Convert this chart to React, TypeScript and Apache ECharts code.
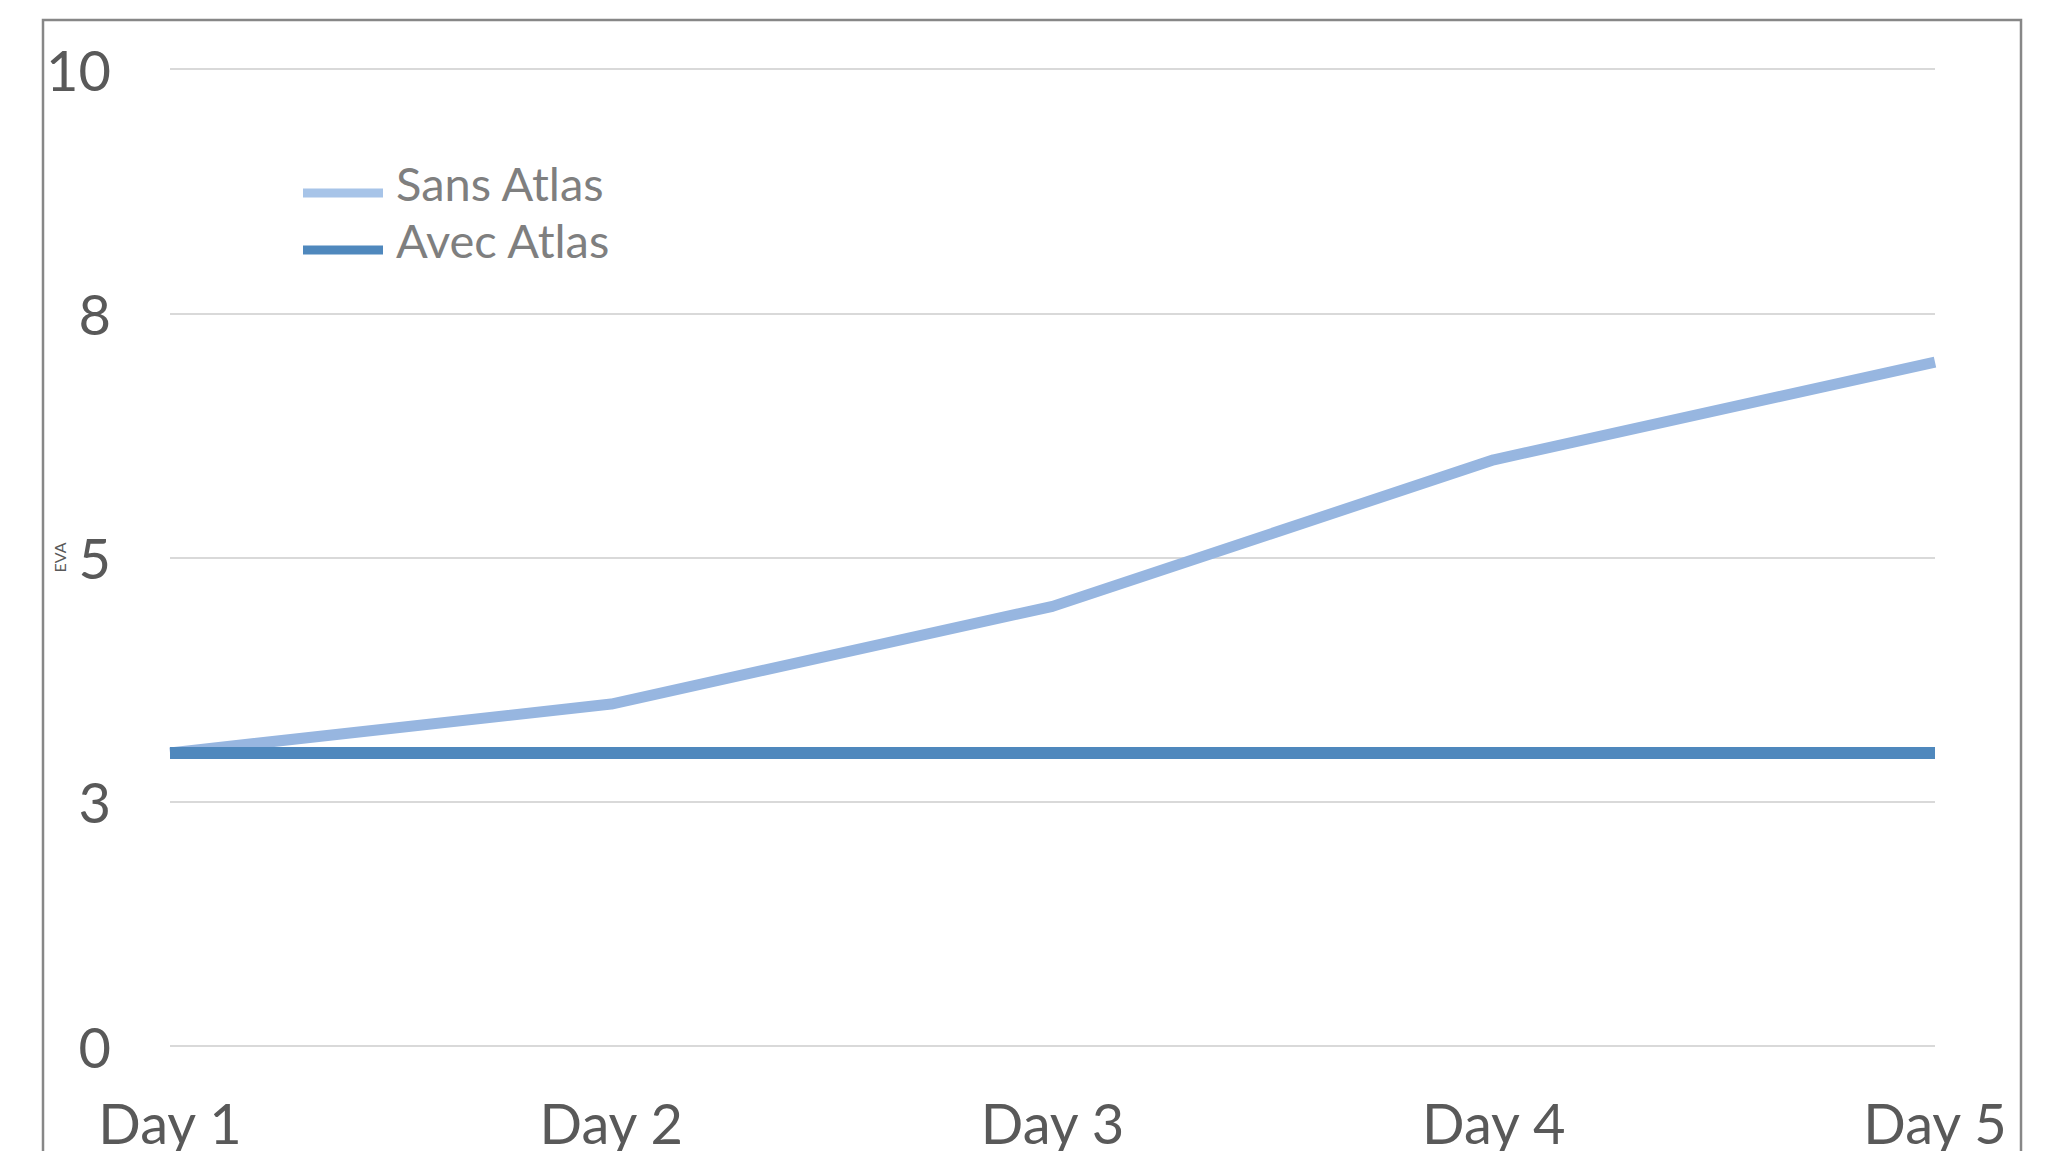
import React, { useEffect, useRef } from "react";
import * as echarts from "echarts";

const days = ["Day 1", "Day 2", "Day 3", "Day 4", "Day 5"];
const sansAtlas = [3, 3.5, 4.5, 6, 7];
const avecAtlas = [3, 3, 3, 3, 3];
const yTicks = [0, 2.5, 5, 7.5, 10];

const FONT = "Lato, 'Open Sans', sans-serif";
const LABEL = "#595959";

// Legend swatch: a thin bar sitting below the middle of the icon box,
// with a zero-length segment at the top so the box keeps its full height.
const LEGEND_ICON = "path://M0,0L0.01,0M0,21L80,21L80,30L0,30Z";

export default function App() {
  const ref = useRef<HTMLDivElement>(null);

  useEffect(() => {
    if (!ref.current) return;
    const chart = echarts.init(ref.current, null, { renderer: "svg" });
    chart.setOption({
      animation: false,
      backgroundColor: "#ffffff",
      textStyle: { fontFamily: FONT },
      graphic: [
        {
          type: "rect",
          shape: { x: 43, y: 20, width: 1978, height: 1200 },
          style: { fill: "none", stroke: "#878787", lineWidth: 2.5 },
          silent: true,
        },
      ],
      grid: { left: 170, right: 115, top: 69, bottom: 105, containLabel: false },
      legend: {
        orient: "vertical",
        left: 298,
        top: 154,
        itemWidth: 80,
        itemHeight: 30,
        itemGap: 10,
        icon: LEGEND_ICON,
        textStyle: {
          fontFamily: FONT,
          fontSize: 47,
          color: "#7f7f7f",
          lineHeight: 47,
          padding: [0, 0, 0, 8],
        },
        data: ["Sans Atlas", "Avec Atlas"],
      },
      xAxis: {
        type: "category",
        data: days,
        boundaryGap: false,
        axisLine: { show: false },
        axisTick: { show: false },
        axisLabel: {
          fontFamily: FONT,
          fontSize: 56,
          color: LABEL,
          margin: 48,
          showMinLabel: true,
          showMaxLabel: true,
        },
      },
      yAxis: {
        type: "value",
        min: yTicks[0],
        max: yTicks[yTicks.length - 1],
        interval: yTicks[1] - yTicks[0],
        name: "EVA",
        nameLocation: "middle",
        nameRotate: 90,
        nameGap: 103,
        nameMoveOverlap: false,
        nameTextStyle: { fontFamily: FONT, fontSize: 16, color: LABEL },
        axisLine: { show: false },
        axisTick: { show: false },
        splitLine: { lineStyle: { color: "#d9d9d9", width: 2 } },
        axisLabel: {
          fontFamily: FONT,
          fontSize: 56,
          color: LABEL,
          margin: 59,
          formatter: (v: number) => String(Math.round(v)),
        },
      },
      series: [
        {
          name: "Sans Atlas",
          type: "line",
          data: sansAtlas,
          symbol: "none",
          color: "#97b6e0",
          lineStyle: { width: 11, color: "#97b6e0", cap: "butt", join: "round" },
          itemStyle: { color: "#a7c4e8" },
        },
        {
          name: "Avec Atlas",
          type: "line",
          data: avecAtlas,
          symbol: "none",
          color: "#4f88bd",
          lineStyle: { width: 12, color: "#4f88bd", cap: "butt" },
          itemStyle: { color: "#4f88bd" },
        },
      ],
    });
    return () => chart.dispose();
  }, []);

  return (
    <div
      ref={ref}
      style={{ position: "absolute", left: 0, top: 0, width: 2050, height: 1151 }}
    />
  );
}
